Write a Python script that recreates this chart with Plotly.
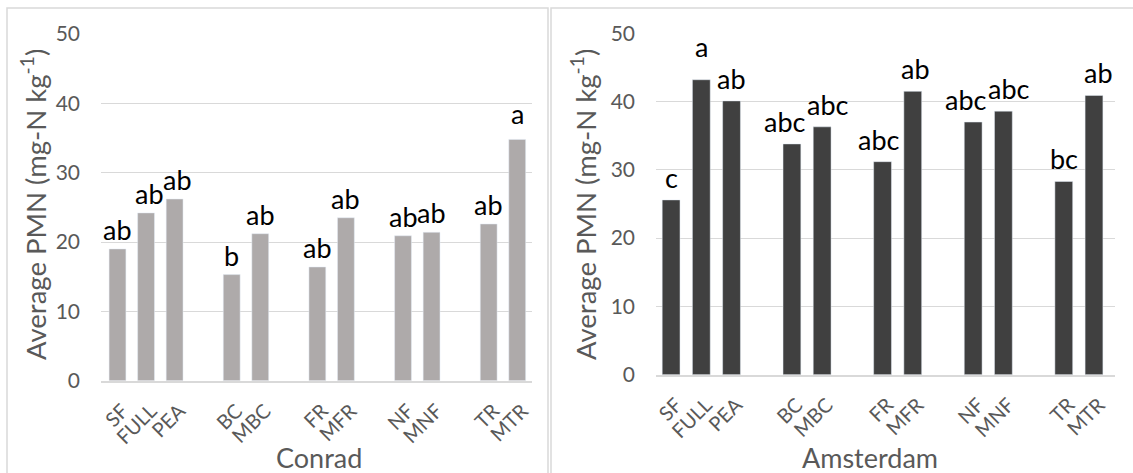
import plotly.graph_objects as go

W, H = 1133, 473

categories = ["SF", "FULL", "PEA", "BC", "MBC", "FR", "MFR", "NF", "MNF", "TR", "MTR"]
groups = [["SF", "FULL", "PEA"], ["BC", "MBC"], ["FR", "MFR"], ["NF", "MNF"], ["TR", "MTR"]]

conrad_values = [19.0, 24.2, 26.2, 15.3, 21.2, 16.4, 23.5, 20.9, 21.4, 22.6, 34.8]
conrad_letters = ["ab", "ab", "ab", "b", "ab", "ab", "ab", "ab", "ab", "ab", "a"]

amsterdam_values = [25.6, 43.2, 40.1, 33.8, 36.3, 31.2, 41.5, 37.0, 38.6, 28.3, 40.9]
amsterdam_letters = ["c", "a", "ab", "abc", "abc", "abc", "ab", "abc", "abc", "bc", "ab"]

y_ticks = [0, 10, 20, 30, 40, 50]
y_title = "Average PMN (mg-N kg<sup>-1</sup>)"
panel_titles = ["Conrad", "Amsterdam"]

# category order with empty spacer slots between groups
cat_order = []
for i, g in enumerate(groups):
    if i > 0:
        cat_order.append(" " * i)
    cat_order.extend(g)

FONT = "Lato"
GRID = "#d9d9d9"
TXT = "#595959"

fig = go.Figure()

fig.add_trace(go.Bar(x=categories, y=conrad_values, marker_color="#aeaaaa",
                     xaxis="x", yaxis="y", showlegend=False, hoverinfo="skip"))
fig.add_trace(go.Bar(x=categories, y=amsterdam_values, marker_color="#404040",
                     xaxis="x2", yaxis="y2", showlegend=False, hoverinfo="skip"))

# plot-area pixel boxes
left_box = dict(x0=101, x1=531.5, y0=380.7, y1=34)
right_box = dict(x0=656, x1=1114.5, y0=374.7, y1=33.3)

def xdom(b):
    return [b["x0"] / W, b["x1"] / W]

def ydom(b):
    return [1 - b["y0"] / H, 1 - b["y1"] / H]

xcommon = dict(type="category", categoryorder="array", categoryarray=cat_order,
               tickmode="array", tickvals=categories, ticktext=categories,
               tickangle=-45, tickfont=dict(family=FONT, size=20, color=TXT),
               ticklabelstandoff=9, ticklabelshift=5, automargin=False,
               showgrid=False, showline=True, linecolor=GRID, linewidth=1.5,
               ticks="", zeroline=False, fixedrange=True)
ycommon = dict(range=[0, 50], tickvals=y_ticks, showgrid=True, gridcolor=GRID,
               gridwidth=1.3, zeroline=False, showline=False, ticks="",
               tickfont=dict(family=FONT, size=21, color=TXT), automargin=False,
               ticklabelstandoff=20, fixedrange=True)

fig.update_layout(
    width=W, height=H, margin=dict(l=0, r=0, t=0, b=0, pad=0, autoexpand=False),
    paper_bgcolor="white", plot_bgcolor="white", bargap=0.41,
    xaxis=dict(domain=xdom(left_box), anchor="y", **xcommon),
    yaxis=dict(domain=ydom(left_box), anchor="x", **ycommon),
    xaxis2=dict(domain=xdom(right_box), anchor="y2", **xcommon),
    yaxis2=dict(domain=ydom(right_box), anchor="x2", **ycommon),
)

annotations = []
# significance letters
left_xshift = {"FULL": 3, "PEA": 3}
left_yshift = {"MTR": 6}
right_xshift = {"BC": -7, "MBC": 6, "NF": -7, "MNF": 6, "FR": -4, "MFR": 3, "MTR": 4}
right_yshift = {"FULL": 11}
for c, v, t in zip(categories, conrad_values, conrad_letters):
    annotations.append(dict(x=c, y=v, xref="x", yref="y", text=t, showarrow=False,
                            yanchor="bottom", xanchor="center",
                            xshift=left_xshift.get(c, 0), yshift=1 + left_yshift.get(c, 0),
                            font=dict(family=FONT, size=27, color="black")))
for c, v, t in zip(categories, amsterdam_values, amsterdam_letters):
    annotations.append(dict(x=c, y=v, xref="x2", yref="y2", text=t, showarrow=False,
                            yanchor="bottom", xanchor="center",
                            xshift=right_xshift.get(c, 0), yshift=4 + right_yshift.get(c, 0),
                            font=dict(family=FONT, size=27, color="black")))

# axis titles
for xc in (33, 583):
    annotations.append(dict(x=xc / W, y=1 - 205 / H, xref="paper", yref="paper",
                            text=y_title, textangle=-90, showarrow=False,
                            xanchor="center", yanchor="middle",
                            font=dict(family=FONT, size=27.5, color=TXT)))
for xc, t in zip((319, 870), panel_titles):
    annotations.append(dict(x=xc / W, y=1 - 457 / H, xref="paper", yref="paper",
                            text=t, showarrow=False, xanchor="center", yanchor="middle",
                            font=dict(family=FONT, size=27, color=TXT)))
fig.update_layout(annotations=annotations)

# panel borders
shapes = []
for x0, x1 in ((7, 548), (551, 1140)):
    shapes.append(dict(type="rect", xref="paper", yref="paper",
                       x0=x0 / W, x1=x1 / W, y0=-0.05, y1=1 - 8 / H,
                       line=dict(color=GRID, width=1.5), fillcolor="rgba(0,0,0,0)",
                       layer="below"))
fig.update_layout(shapes=shapes)

fig.write_html("out.html", config={"responsive": False, "displayModeBar": False},
               post_script="document.body.style.margin='0';document.body.style.overflow='hidden';")
